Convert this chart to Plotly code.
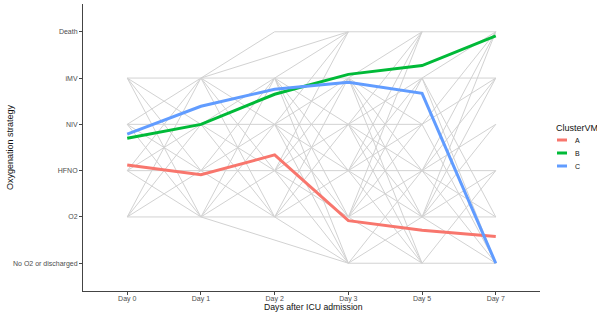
import plotly.graph_objects as go

days = ["Day 0", "Day 1", "Day 2", "Day 3", "Day 5", "Day 7"]
levels = ["No O2 or discharged", "O2", "HFNO", "NIV", "iMV", "Death"]  # 1..6

# Mean oxygenation level per cluster (1 = No O2 ... 6 = Death)
cluster_names = ["A", "B", "C"]
cluster_colors = ["#F8766D", "#00BA38", "#619CFF"]
cluster_A = [3.12, 2.91, 3.34, 1.92, 1.71, 1.58]
cluster_B = [3.70, 4.00, 4.65, 5.08, 5.27, 5.91]
cluster_C = [3.79, 4.39, 4.76, 4.91, 4.67, 1.00]

# Individual patient transitions (gray): from-level -> list of to-levels
trans_0_1 = {2: [2, 3, 4, 5], 3: [2, 3, 4, 5], 4: [2, 3, 4, 5], 5: [2, 3, 4, 5]}
trans_1_2 = {2: [2, 3, 4, 5], 3: [2, 3, 4, 5], 4: [2, 3, 4, 5], 5: [2, 3, 4, 5, 6]}
skip_1_3 = [(5, 6), (2, 1)]
trans_2_3 = {6: [6], 5: [1, 2, 3, 4, 5, 6], 4: [1, 2, 3, 4, 5, 6],
             3: [1, 2, 3, 4, 5, 6], 2: [1, 2, 3, 4, 5]}
trans_3_5 = {6: [6], 5: [1, 2, 3, 4, 5, 6], 4: [1, 2, 3, 4, 5, 6],
             3: [1, 2, 3, 4, 5, 6], 2: [1, 2, 3, 4, 5, 6], 1: [1, 2, 3]}
trans_5_7 = {6: [6], 5: [1, 2, 5, 6], 4: [1, 5, 6],
             3: [1, 2, 3, 4, 5, 6], 2: [1, 2, 3, 4, 5, 6], 1: [1, 3]}

gx, gy = [], []
def add(d0, d1, tmap):
    for a, bs in tmap.items():
        for b in bs:
            gx.extend([d0, d1, None]); gy.extend([a, b, None])
add(0, 1, trans_0_1)
add(1, 2, trans_1_2)
for a, b in skip_1_3:
    gx.extend([1, 3, None]); gy.extend([a, b, None])
add(2, 3, trans_2_3)
add(3, 4, trans_3_5)
add(4, 5, trans_5_7)

FONT = "Liberation Sans, Arial, Helvetica"
xi = list(range(len(days)))
fig = go.Figure()
fig.add_trace(go.Scatter(x=gx, y=gy, mode="lines", line=dict(color="#d2d2d2", width=1),
                         showlegend=False, hoverinfo="skip"))
for name, vals, col in zip(cluster_names, [cluster_A, cluster_B, cluster_C], cluster_colors):
    fig.add_trace(go.Scatter(x=xi, y=vals, mode="lines", name=name, showlegend=False,
                             line=dict(color=col, width=3)))

axis_common = dict(showline=True, linecolor="#444", linewidth=1, ticks="outside",
                   ticklen=3, tickcolor="#444", showgrid=False, zeroline=False,
                   automargin=False,
                   tickfont=dict(family=FONT, size=7, color="#4d4d4d"))
fig.update_xaxes(range=[-0.6, 5.6], tickvals=xi, ticktext=days, ticklabelstandoff=-2,
                 **axis_common)
fig.update_yaxes(range=[0.4, 6.6], tickvals=list(range(1, 7)), ticktext=levels, **axis_common)

L, R, T, B, W, H = 83, 57, 4, 23, 597, 314
pw, ph = W - L - R, H - T - B
def px(x): return (x - L) / pw
def py(y): return (H - B - y) / ph

ann = []
ann.append(dict(text="Days after ICU admission", x=px(313), y=py(307), xref="paper", yref="paper",
                showarrow=False, font=dict(family=FONT, size=8.7, color="#111"),
                xanchor="center", yanchor="middle"))
ann.append(dict(text="Oxygenation strategy", x=px(10), y=py(147), xref="paper", yref="paper",
                showarrow=False, textangle=-90, font=dict(family=FONT, size=9, color="#111"),
                xanchor="center", yanchor="middle"))
ann.append(dict(text="ClusterVM", x=px(554), y=py(128), xref="paper", yref="paper",
                showarrow=False, font=dict(family=FONT, size=9, color="#111"),
                xanchor="left", yanchor="middle"))
shapes = []
for i, (name, col) in enumerate(zip(cluster_names, cluster_colors)):
    yy = 140 + 13 * i
    shapes.append(dict(type="line", xref="paper", yref="paper", x0=px(557), x1=px(567),
                       y0=py(yy), y1=py(yy), line=dict(color=col, width=3)))
    ann.append(dict(text=name, x=px(573), y=py(yy), xref="paper", yref="paper",
                    showarrow=False, font=dict(family=FONT, size=7, color="#111"),
                    xanchor="left", yanchor="middle"))

fig.update_layout(
    width=W, height=H, paper_bgcolor="white", plot_bgcolor="white",
    margin=dict(l=L, r=R, t=T, b=B, autoexpand=False),
    annotations=ann, shapes=shapes, showlegend=False,
    font=dict(family=FONT),
)
fig.write_html("out.html", config={"displayModeBar": False},
               post_script="document.body.style.margin='0';document.body.style.overflow='hidden';")
